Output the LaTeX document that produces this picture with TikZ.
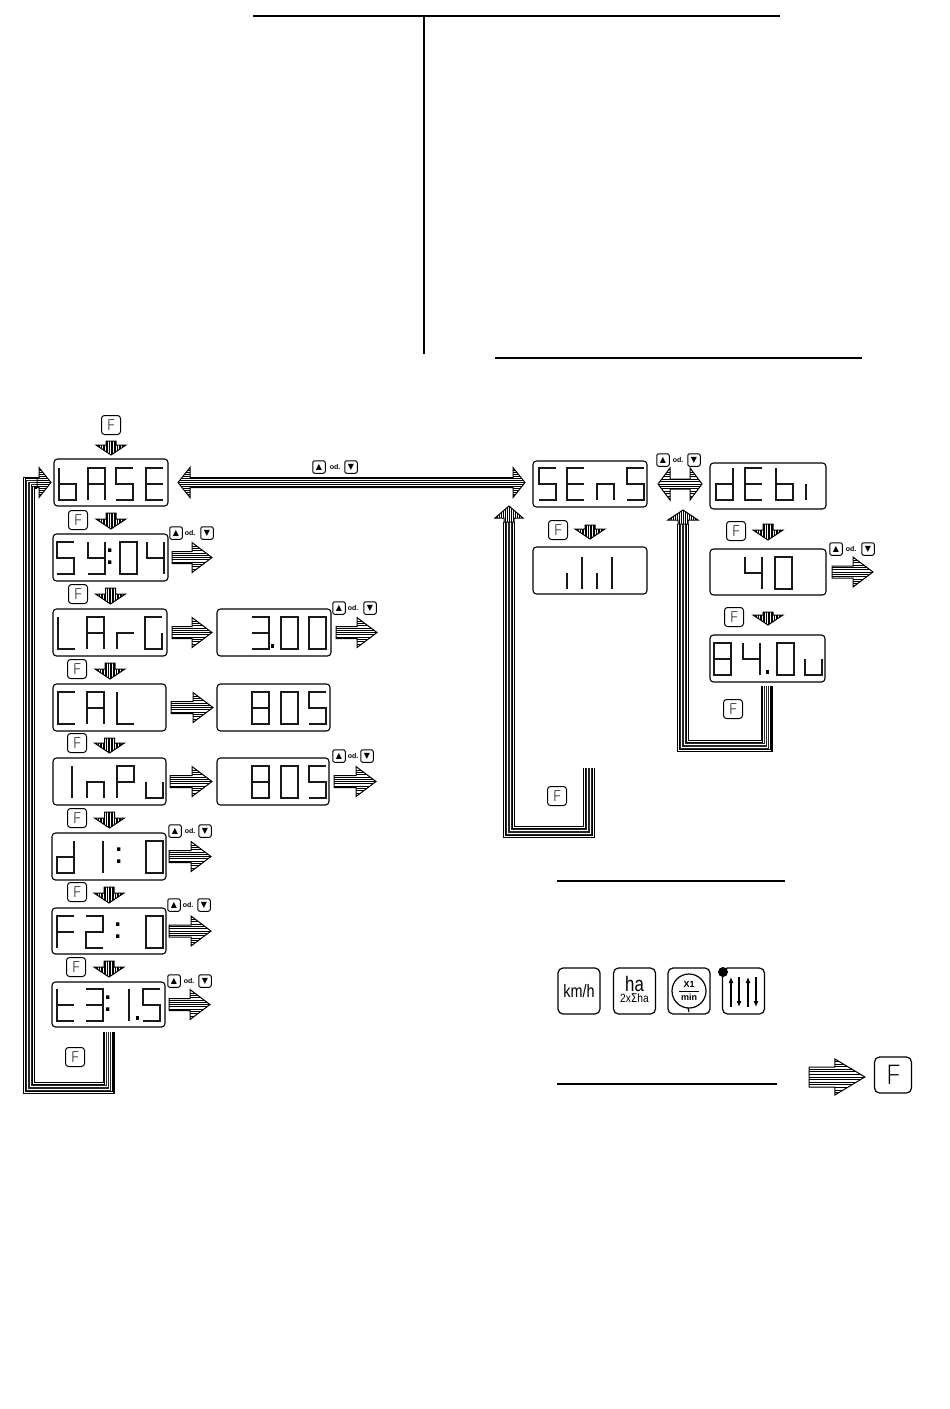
\documentclass[tikz,border=0pt]{standalone}
\usepackage{fontspec}
\usepackage{graphicx}
\setmainfont{Liberation Sans}
\newfontfamily\symfont{DejaVu Sans}
\newfontfamily\keyfont{Open Sans Light}
\usetikzlibrary{calc,arrows.meta}
\tikzset{
  rulebar/.style={line width=1.7pt,line cap=butt},
  lcdbox/.style={draw,rounded corners=3.5pt,line width=1.1pt,inner sep=0pt,outer sep=0pt},
  segline/.style={line width=1.05pt,line join=miter,line cap=butt,black!90},
  fkey/.style={draw,rounded corners=3pt,line width=1pt,minimum width=19pt,minimum height=19pt,inner sep=0pt,font=\keyfont\fontsize{15}{15}\selectfont},
  bigkey/.style={draw,rounded corners=5pt,line width=1.2pt,minimum width=37pt,minimum height=36pt,inner sep=0pt,font=\keyfont\fontsize{27}{27}\selectfont},
  iconkey/.style={draw,rounded corners=5pt,line width=1.2pt,minimum width=42pt,minimum height=46pt,inner sep=0pt},
  arrkey/.style={draw,rounded corners=2pt,line width=1pt,minimum width=12.5pt,minimum height=12.5pt,inner sep=0pt,font=\symfont\fontsize{8}{8}\selectfont},
  odtext/.style={inner sep=0pt,font=\bfseries\fontsize{7}{7}\selectfont},
}
% seven-segment glyphs, unit cell 1 wide and 2 high
\newcommand\defglyph[2]{\expandafter\def\csname gly#1\endcsname{\draw[segline] #2;}}
\defglyph{b}{(0,0)--(0,2)--(1,2)--(1,1)--(0,1)}
\defglyph{A}{(0,2)--(0,0)--(1,0)--(1,2) (0,1)--(1,1)}
\defglyph{S}{(1,0)--(0,0)--(0,1)--(1,1)--(1,2)--(0,2)}
\defglyph{E}{(1,0)--(0,0)--(0,2)--(1,2) (0,1)--(1,1)}
\defglyph{Y}{(0,0)--(0,1)--(1,1) (1,0)--(1,2)--(0,2)}
\defglyph{Z}{(0,0)--(1,0)--(1,2)--(0,2)--cycle}
\defglyph{V}{(0,0)--(0,1)--(1,1) (1,0)--(1,2)}
\defglyph{L}{(0,0)--(0,2)--(1,2)}
\defglyph{r}{(0,2)--(0,1)--(1,1)}
\defglyph{G}{(1,0)--(0,0)--(0,2)--(1,2)--(1,1)}
\defglyph{T}{(0,0)--(1,0)--(1,2)--(0,2) (0,1)--(1,1)}
\defglyph{B}{(0,0)--(1,0)--(1,2)--(0,2)--cycle (0,1)--(1,1)}
\defglyph{C}{(1,0)--(0,0)--(0,2)--(1,2)}
\defglyph{I}{(1,0)--(1,2)}
\defglyph{l}{(0,0)--(0,2)}
\defglyph{i}{(0,1)--(0,2)}
\defglyph{n}{(0,2)--(0,1)--(1,1)--(1,2)}
\defglyph{P}{(0,2)--(0,0)--(1,0)--(1,1)--(0,1)}
\defglyph{u}{(0,1)--(0,2)--(1,2)--(1,1)}
\defglyph{d}{(1,0)--(1,2)--(0,2)--(0,1)--(1,1)}
\defglyph{F}{(1,0)--(0,0)--(0,2) (0,1)--(1,1)}
\defglyph{D}{(0,0)--(1,0)--(1,1)--(0,1)--(0,2)--(1,2)}
\defglyph{t}{(0,0)--(0,2)--(1,2) (0,1)--(1,1)}
\expandafter\def\csname glycolon\endcsname{\fill (0,.4) rectangle (.2,.62) (0,1.15) rectangle (.2,1.37);}
\expandafter\def\csname glydot\endcsname{\fill (0,1.7) rectangle (.2,1.92);}
% display: name, x1, y1, x2, y2, digit top offset, glyph/x-offset list
\newcommand\lcd[7]{%
  \node[lcdbox,minimum width={#4-#2},minimum height={#5-#3}] (#1) at ({(#2+#4)/2},{(#3+#5)/2}) {};
  \foreach \myg/\myo in {#7}{%
    \begin{scope}[shift={(#2+\myo,#3+#6)},x=17pt,y=-16pt]
      \csname gly\myg\endcsname
    \end{scope}}%
}
% striped block arrow: from, to, head length, head half width, shaft half width, stripe step, tail head length, tail head half width
\newcommand\fatarrow[8]{%
  \path let \p1=($(#2)-(#1)$),\n1={veclen(\x1,\y1)},\n2={atan2(\y1,\x1)} in
    \pgfextra{\pgfmathsetmacro\tmpl{\n1}\pgfmathsetmacro\tmpa{\n2}\global\let\fatl\tmpl\global\let\fata\tmpa};
  \begin{scope}[shift={(#1)},rotate=\fata]
    \def\fatoutline{(0,0)--(#7,-#8)--(#7,-#5)--({\fatl-#3},-#5)--({\fatl-#3},-#4)--(\fatl,0)--({\fatl-#3},#4)--({\fatl-#3},#5)--(#7,#5)--(#7,#8)--cycle}
    \fill[white] \fatoutline;
    \begin{scope}
      \clip \fatoutline;
      \pgfmathsetmacro\nst{ceil(#4/#6)}
      \foreach \kk in {-\nst,...,\nst}{\draw[line width=0.8pt] (0,\kk*#6)--(\fatl,\kk*#6);}
    \end{scope}
    \draw[line width=1pt,line join=miter] \fatoutline;
  \end{scope}%
}
\newcommand\bigarrow[2]{\fatarrow{#1}{#2}{20}{15}{6}{2.3}{0}{6}}
\newcommand\dnarrow[2]{\fatarrow{#1}{#2}{10}{15}{5}{1.6}{0}{5}}
% striped channel
\newcommand\band[1]{%
  \draw[line width=12pt,line join=miter] #1;
  \draw[line width=9.8pt,white,line join=miter] #1;
  \draw[line width=8.4pt,line join=miter] #1;
  \draw[line width=6.8pt,white,line join=miter] #1;
  \draw[line width=5.4pt,line join=miter,black!85] #1;
  \draw[line width=3.2pt,white,line join=miter] #1;
  \draw[line width=1.8pt,line join=miter,black!85] #1;
}
% up / down key pair
\newcommand\updown[5]{%
  \node[arrkey] (#1u) at (#2,#5) {▲};
  \node[odtext] (#1o) at (#3,#5) {od.};
  \node[arrkey] (#1d) at (#4,#5) {▼};
}
\begin{document}
\begin{tikzpicture}[x=1pt,y=-1pt]
\useasboundingbox (0,0) rectangle (950,1409);
% rules
\draw[rulebar] (253,16)--(780,16);
\draw[rulebar] (424,16)--(424,354);
\draw[rulebar] (495,358)--(862,358);
\draw[rulebar] (557,881)--(785,881);
\draw[rulebar] (557,1084)--(777,1084);
% left column displays
\lcd{base}{54}{459}{168}{506}{9}{b/5,A/34,S/62,E/92}
\lcd{sy}{53}{534}{168}{581}{8}{S/4,Y/35,colon/55,Z/67,V/94}
\lcd{larg}{53}{609}{167}{656}{8}{L/5,A/34,r/64,G/92}
\lcd{lval}{217}{609}{331}{656}{8}{T/35,dot/54,Z/64,Z/92}
\lcd{cal}{53}{684}{166}{731}{8}{C/5,A/34,L/64}
\lcd{cval}{217}{684}{330}{731}{8}{B/35,Z/64,S/92}
\lcd{inpu}{53}{758}{166}{805}{8}{I/2,n/34,P/64,u/93}
\lcd{ival}{217}{758}{329}{805}{8}{B/35,Z/64,S/92}
\lcd{done}{52}{833}{166}{880}{8}{d/5,I/34,colon/65,Z/94}
\lcd{ftwo}{52}{908}{166}{954}{8}{F/5,D/34,colon/64,Z/94}
\lcd{tthree}{52}{982}{165}{1027}{7}{t/5,T/34,colon/54,I/60,dot/84,S/91}
% right column displays
\lcd{sens}{533}{461}{647}{507}{7}{S/6,E/34,n/64,S/94}
\lcd{meter}{533}{547}{647}{594}{10}{i/34,l/49,i/64,l/79}
\lcd{debi}{710}{463}{826}{509}{5}{d/6,E/35,b/66,i/96}
\lcd{forty}{710}{549}{826}{595}{8}{V/35,Z/65}
\lcd{eighty}{710}{635}{825}{682}{8}{B/4,V/33,dot/56,Z/67,u/95}
% F keys
\node[fkey] (k0) at (111,425) {F};
\node[fkey] (k1) at (78,520) {F};
\node[fkey] (k2) at (78,594) {F};
\node[fkey] (k3) at (77,669) {F};
\node[fkey] (k4) at (77,743) {F};
\node[fkey] (k5) at (77,818) {F};
\node[fkey] (k6) at (77,892) {F};
\node[fkey] (k7) at (76,967) {F};
\node[fkey] (k8) at (75,1057) {F};
\node[fkey] (k9) at (558,530) {F};
\node[fkey] (k10) at (736,531) {F};
\node[fkey] (k11) at (734,617) {F};
\node[fkey] (k12) at (733,709) {F};
\node[fkey] (k13) at (557,796) {F};
\node[bigkey] (k14) at (893,1075) {F};
% arrow key pairs
\updown{a}{319}{335}{351}{467}
\updown{b}{176}{190}{207}{533}
\updown{c}{339}{353}{370}{608}
\updown{e}{339}{353}{367}{756}
\updown{f}{175}{190}{205}{831}
\updown{g}{174}{188}{204}{905}
\updown{h}{174}{189}{205}{981}
\updown{j}{663}{678}{694}{460}
\updown{m}{836}{851}{868}{549}
% down arrows between steps
\dnarrow{$(k0.south)+(0,6)$}{$(base.north)+(0,-4)$}
\dnarrow{$(base.south)+(0,7)$}{$(sy.north)+(0.5,-5)$}
\dnarrow{$(sy.south)+(0,7)$}{$(larg.north)+(0.5,-5)$}
\dnarrow{$(larg.south)+(0,7)$}{$(cal.north)+(0.5,-5)$}
\dnarrow{$(cal.south)+(0,7)$}{$(inpu.north)+(0,-5)$}
\dnarrow{$(inpu.south)+(0,7)$}{$(done.north)+(0.5,-5)$}
\dnarrow{$(done.south)+(0,7)$}{$(ftwo.north)+(0,-5)$}
\dnarrow{$(ftwo.south)+(0,7)$}{$(tthree.north)+(0.5,-5)$}
\dnarrow{$(sens.south)+(0,18)$}{$(meter.north)+(0,-8)$}
\dnarrow{$(debi.south)+(0,15)$}{$(forty.north)+(0,-9)$}
\dnarrow{$(forty.south)+(0,17)$}{$(eighty.north)+(0.5,-10)$}
% right arrows
\coordinate (syout) at (212,557.5);
\coordinate (lout) at (377,632.5);
\coordinate (iout) at (376,781.5);
\coordinate (dout) at (211,856.5);
\coordinate (fout) at (211,931);
\coordinate (tout) at (210,1004.5);
\coordinate (fortyout) at (873,572);
\bigarrow{$(sy.east)+(4,0)$}{syout}
\bigarrow{$(larg.east)+(5,0)$}{$(lval.west)+(-5,0)$}
\bigarrow{$(lval.east)+(5,0)$}{lout}
\bigarrow{$(cal.east)+(5,0)$}{$(cval.west)+(-4,0)$}
\bigarrow{$(inpu.east)+(4,0)$}{$(ival.west)+(-5,0)$}
\bigarrow{$(ival.east)+(5,0)$}{iout}
\bigarrow{$(done.east)+(3,0)$}{dout}
\bigarrow{$(ftwo.east)+(3,0)$}{fout}
\bigarrow{$(tthree.east)+(4,0)$}{tout}
\bigarrow{$(forty.east)+(6,0)$}{fortyout}
% double arrows
\fatarrow{$(base.east)+(10,0)$}{$(sens.west)+(-8,-1.5)$}{12}{15}{5}{2}{12}{15}
\fatarrow{$(sens.east)+(11,0)$}{$(debi.west)+(-8,-2)$}{12}{16}{5}{2.4}{12}{16}
% return channels
\coordinate (ba) at (29,1088);
\coordinate (bb) at (37,482.5);
\band{($(tthree.south)+(0,5)$) |- (ba) |- (bb)}
\fatarrow{bb}{$(base.west)+(-3,0)$}{12}{15}{5}{2}{0}{5}
\coordinate (sa) at (589,768);
\coordinate (sb) at (509,832);
\coordinate (sc) at (509,522);
\coordinate (st) at (509,506);
\band{(sa) |- (sb) -- (sc)}
\fatarrow{sc}{st}{12}{14}{5}{2}{0}{5}
\coordinate (da) at (683,746);
\coordinate (db) at (683,524);
\coordinate (dt) at (683,510);
\band{($(eighty.south)+(-1,4)$) |- (da) -- (db)}
\fatarrow{db}{dt}{10}{15}{5}{2}{0}{5}
% legend keys
\node[iconkey] (kkm) at (579,991) {\scalebox{.8}[1]{\fontsize{18}{18}\selectfont km/h}};
\node[iconkey] (kha) at (634.5,991) {\begin{tabular}{@{}c@{}}\scalebox{.8}[1]{\fontsize{21}{15}\selectfont ha}\\[-1pt]\scalebox{.85}[1]{\fontsize{12}{12}\selectfont 2x{\symfont Σ}ha}\end{tabular}};
\node[iconkey] (kx) at (689,991) {};
\draw[line width=1.2pt] (kx.center) circle (17pt);
\draw[line width=1.2pt] (688,1008)--(689,1012);
\node[inner sep=0pt,font=\bfseries\fontsize{9}{9}\selectfont] (kxa) at (689,984.5) {X1};
\node[inner sep=0pt,font=\bfseries\fontsize{9}{9}\selectfont] (kxb) at (689,997.5) {min};
\draw[line width=1pt] (679,991)--(699,991);
\node[iconkey] (kar) at (743.5,991) {};
\fill (723,972) circle (5pt);
\draw[line width=1.1pt,-{Latex[length=6pt,width=5pt]}] (731,1007)--(731,977);
\draw[line width=1.1pt,-{Latex[length=6pt,width=5pt]}] (739,977)--(739,1007);
\draw[line width=1.1pt,-{Latex[length=6pt,width=5pt]}] (748,1007)--(748,977);
\draw[line width=1.1pt,-{Latex[length=6pt,width=5pt]}] (756,977)--(756,1007);
% legend arrow
\coordinate (lg) at (809,1077);
\fatarrow{lg}{$(k14.west)+(-9,2)$}{30}{18}{10}{2.6}{0}{10}
\end{tikzpicture}
\end{document}
